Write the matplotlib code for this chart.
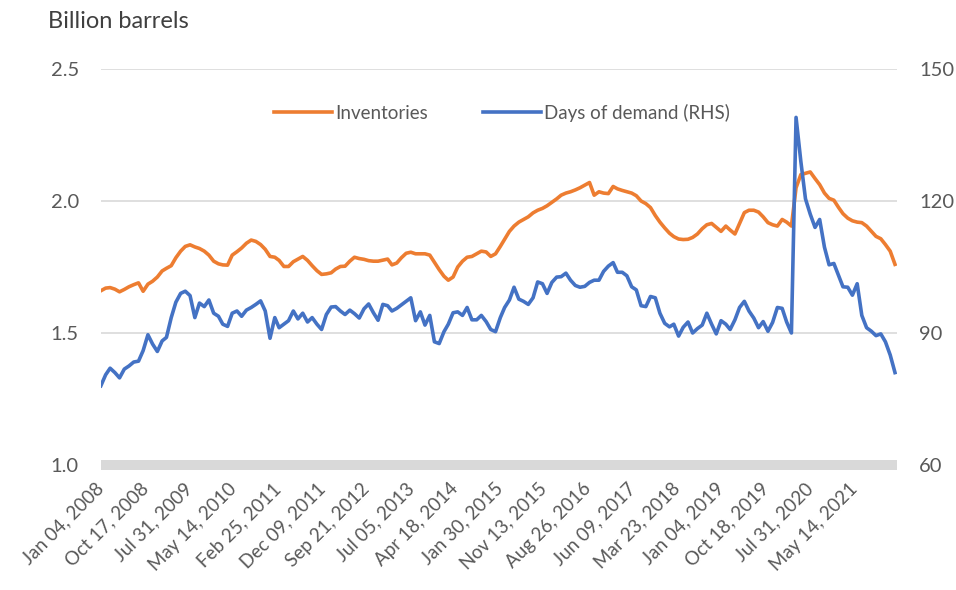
import pandas as pd
import matplotlib
matplotlib.use("Agg")
import matplotlib.pyplot as plt

plt.rcParams["font.family"] = ["Lato", "DejaVu Sans"]

# monthly readings, Jan 2008 .. Feb 2022
start_month = "2008-01-01"

inventories = [
    1.660, 1.670, 1.672, 1.666, 1.656, 1.665, 1.675, 1.683, 1.690, 1.658,
    1.685, 1.696, 1.712, 1.735, 1.745, 1.755, 1.785, 1.810, 1.828, 1.834,
    1.826, 1.820, 1.810, 1.795, 1.772, 1.762, 1.758, 1.757, 1.795, 1.808,
    1.822, 1.840, 1.852, 1.847, 1.835, 1.817, 1.790, 1.787, 1.775, 1.752,
    1.752, 1.770, 1.780, 1.790, 1.775, 1.755, 1.736, 1.722, 1.724, 1.728,
    1.742, 1.752, 1.753, 1.772, 1.787, 1.782, 1.779, 1.774, 1.772, 1.772,
    1.776, 1.780, 1.758, 1.765, 1.785, 1.802, 1.806, 1.800, 1.800, 1.800,
    1.795, 1.768, 1.740, 1.715, 1.700, 1.712, 1.750, 1.772, 1.787, 1.790,
    1.800, 1.810, 1.807, 1.790, 1.800, 1.828, 1.855, 1.885, 1.905, 1.920,
    1.930, 1.940, 1.955, 1.965, 1.972, 1.982, 1.995, 2.008, 2.022, 2.030,
    2.035, 2.042, 2.050, 2.060, 2.070, 2.022, 2.035, 2.030, 2.028, 2.055,
    2.046, 2.040, 2.035, 2.030, 2.020, 2.000, 1.990, 1.975, 1.945, 1.920,
    1.898, 1.878, 1.865, 1.856, 1.854, 1.855, 1.862, 1.875, 1.895, 1.910,
    1.915, 1.900, 1.885, 1.905, 1.890, 1.875, 1.915, 1.956, 1.965, 1.965,
    1.958, 1.940, 1.918, 1.910, 1.905, 1.930, 1.920, 1.905, 2.050, 2.100,
    2.105, 2.110, 2.085, 2.062, 2.030, 2.010, 2.003, 1.975, 1.952, 1.935,
    1.925, 1.920, 1.918, 1.905, 1.885, 1.866, 1.857, 1.835, 1.810, 1.760,
]

days_of_demand = [
    78.0, 80.5, 82.0, 81.0, 79.8, 81.8, 82.5, 83.4, 83.6, 86.0,
    89.6, 87.5, 85.8, 88.2, 89.0, 93.5, 97.0, 99.0, 99.5, 98.5,
    93.5, 96.8, 96.0, 97.5, 94.5, 93.8, 92.0, 91.5, 94.5, 95.0,
    93.8, 95.2, 95.8, 96.5, 97.3, 95.0, 88.8, 93.5, 91.2, 92.0,
    92.8, 95.0, 93.2, 94.5, 92.5, 93.5, 92.0, 90.8, 94.2, 95.9,
    96.0, 95.0, 94.2, 95.2, 94.4, 93.4, 95.5, 96.6, 94.6, 92.9,
    96.5, 96.2, 95.0, 95.6, 96.4, 97.2, 98.0, 92.8, 94.8, 91.8,
    94.0, 88.0, 87.6, 90.3, 92.0, 94.6, 94.8, 94.0, 95.8, 93.0,
    93.0, 94.0, 92.6, 90.8, 90.3, 93.5, 95.8, 97.5, 100.4, 97.7,
    97.2, 96.5, 98.0, 101.6, 101.2, 99.0, 101.5, 102.7, 102.8, 103.6,
    102.0, 100.8, 100.4, 100.6, 101.5, 102.0, 102.0, 104.0, 105.2, 106.0,
    103.8, 103.8, 103.0, 100.5, 99.8, 96.2, 96.0, 98.3, 98.0, 94.5,
    92.2, 91.4, 92.0, 89.3, 91.3, 92.5, 90.0, 91.0, 91.8, 94.5,
    92.0, 89.8, 92.8, 92.0, 90.8, 93.0, 95.8, 97.2, 95.0, 93.4,
    91.2, 92.6, 90.4, 92.4, 95.8, 95.6, 92.5, 90.0, 139.0, 129.0,
    120.5, 117.0, 114.0, 115.8, 109.5, 105.5, 105.8, 103.0, 100.5, 100.4,
    98.6, 101.2, 94.0, 91.2, 90.4, 89.4, 89.8, 88.0, 85.0, 81.0,
]

tick_labels = [
    "Jan 04, 2008", "Oct 17, 2008", "Jul 31, 2009", "May 14, 2010",
    "Feb 25, 2011", "Dec 09, 2011", "Sep 21, 2012", "Jul 05, 2013",
    "Apr 18, 2014", "Jan 30, 2015", "Nov 13, 2015", "Aug 26, 2016",
    "Jun 09, 2017", "Mar 23, 2018", "Jan 04, 2019", "Oct 18, 2019",
    "Jul 31, 2020", "May 14, 2021",
]

dates = pd.date_range(start_month, periods=len(inventories), freq="MS")
tick_pos = pd.to_datetime(tick_labels, format="%b %d, %Y")

ORANGE = "#ED7D31"
BLUE = "#4472C4"
GRID = "#D9D9D9"
TXT = "#595959"

fig = plt.figure(figsize=(9.56, 5.90), dpi=100)
ax = fig.add_axes([101 / 956, 1 - 465 / 590, 796 / 956, 396 / 590])
ax2 = ax.twinx()

ax.plot(dates, inventories, color=ORANGE, lw=2.6, label="Inventories")
ax2.plot(dates, days_of_demand, color=BLUE, lw=2.6, label="Days of demand (RHS)")

ax.set_ylim(1.0, 2.5)
ax.set_yticks([1.0, 1.5, 2.0, 2.5])
ax.set_yticklabels(["1.0", "1.5", "2.0", "2.5"])
ax2.set_ylim(60, 150)
ax2.set_yticks([60, 90, 120, 150])

ax.set_xlim(pd.Timestamp("2008-01-02"), pd.Timestamp("2022-02-14"))
ax.set_xticks(tick_pos)
ax.set_xticklabels(tick_labels, rotation=45, ha="right", va="center",
                   rotation_mode="anchor")

ax.grid(axis="y", color=GRID, lw=1.2)
ax.set_axisbelow(True)
for a in (ax, ax2):
    for s in ("top", "left", "right", "bottom"):
        a.spines[s].set_visible(False)
# thick grey category axis line
ax.axhspan(0.981, 1.019, xmin=0, xmax=1, color=GRID, lw=0, zorder=0,
           clip_on=False)

ax.tick_params(axis="y", length=0, pad=16, labelsize=14.5, labelcolor=TXT)
ax.tick_params(axis="x", length=0, pad=15, labelsize=13.5, labelcolor=TXT)
ax2.tick_params(axis="y", length=0, pad=16, labelsize=14.5, labelcolor=TXT)

fig.text(48 / 956, 1 - 21 / 590, "Billion barrels", fontsize=17,
         color="#404040", va="center", ha="left")

h1, l1 = ax.get_legend_handles_labels()
h2, l2 = ax2.get_legend_handles_labels()
fig.legend(h1 + h2, l1 + l2, loc="center", ncol=2, frameon=False,
           bbox_to_anchor=(502 / 956, 1 - 113 / 590), fontsize=13.5,
           labelcolor=TXT, handlelength=3.1, handletextpad=0.2,
           columnspacing=2.9)

fig.savefig("out.png", dpi=100)
